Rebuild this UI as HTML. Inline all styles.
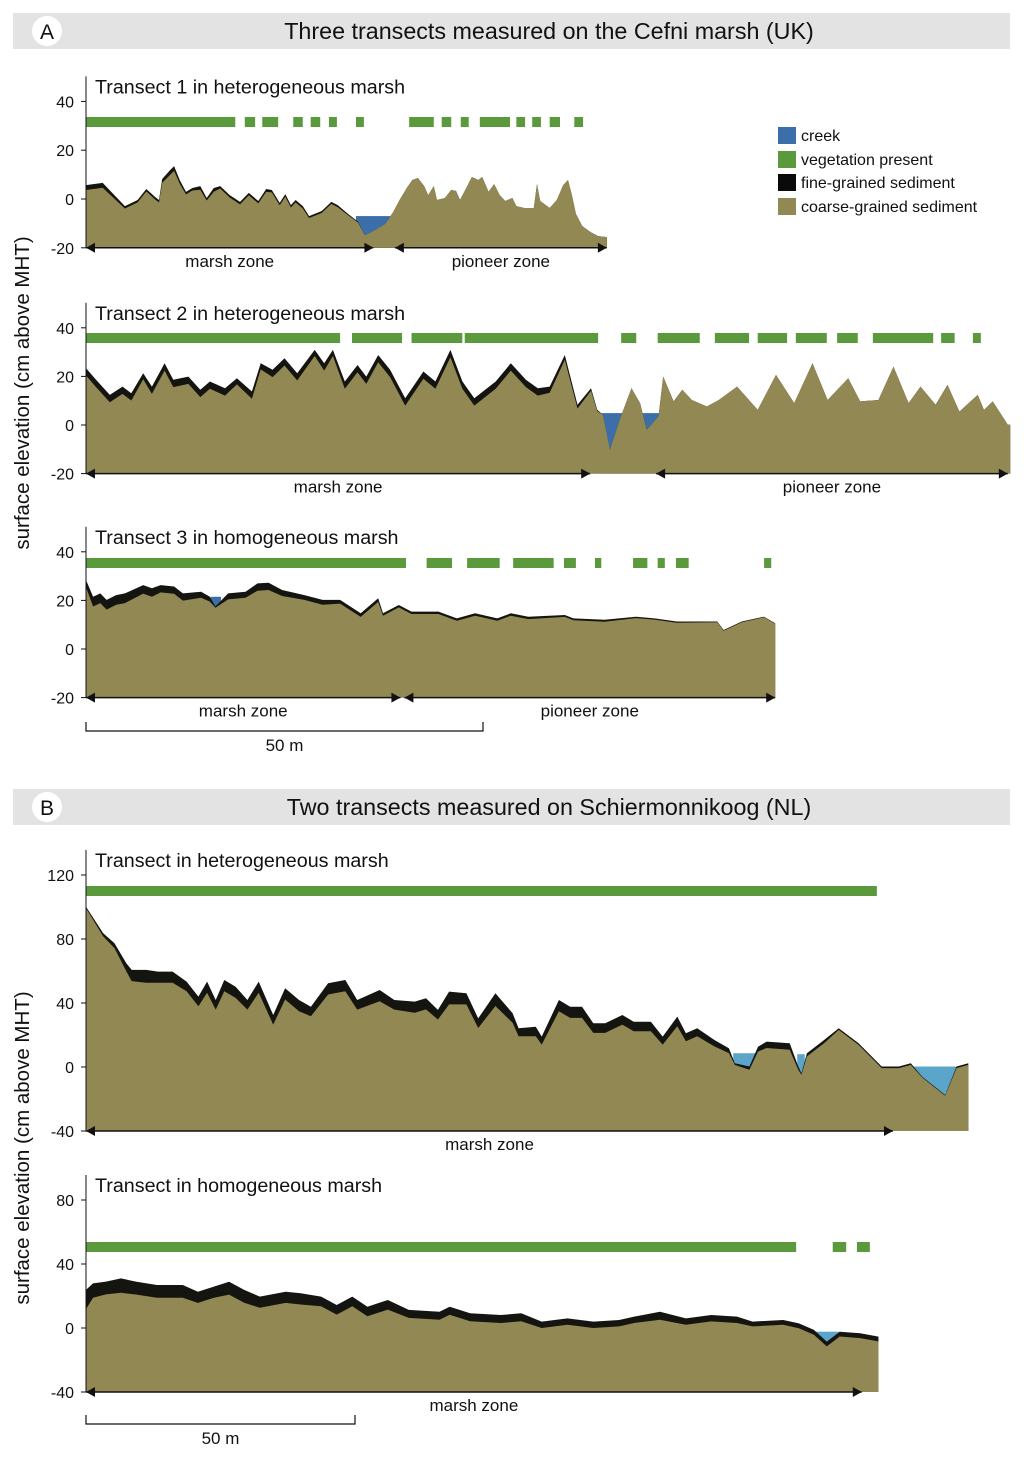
<!DOCTYPE html>
<html><head><meta charset="utf-8"><style>
body{margin:0;background:#fff;}
svg text{font-family:"Liberation Sans",sans-serif;fill:#111;}
</style></head><body>
<svg id="fig" width="1024" height="1452" viewBox="0 0 1024 1452" xmlns="http://www.w3.org/2000/svg">
<rect x="13" y="13" width="997" height="36" fill="#e3e3e3"/>
<circle cx="47" cy="31" r="15" fill="#fff"/>
<text x="47" y="39" font-size="21" text-anchor="middle">A</text>
<text x="549" y="39" font-size="23.3" text-anchor="middle">Three transects measured on the Cefni marsh (UK)</text>
<rect x="13" y="789" width="997" height="36" fill="#e3e3e3"/>
<circle cx="47" cy="807" r="15" fill="#fff"/>
<text x="47" y="815" font-size="21" text-anchor="middle">B</text>
<text x="549" y="815" font-size="23.3" text-anchor="middle">Two transects measured on Schiermonnikoog (NL)</text>
<text transform="translate(29,393) rotate(-90)" font-size="20.5" text-anchor="middle">surface elevation (cm above MHT)</text>
<text transform="translate(29,1148) rotate(-90)" font-size="20.5" text-anchor="middle">surface elevation (cm above MHT)</text>
<g>
<rect x="778" y="127" width="18" height="17" fill="#3c6faa"/>
<text x="801" y="141" font-size="16">creek</text>
<rect x="778" y="151" width="18" height="17" fill="#5a9a3c"/>
<text x="801" y="165" font-size="16">vegetation present</text>
<rect x="778" y="174" width="18" height="17" fill="#0a0a0a"/>
<text x="801" y="188" font-size="16">fine-grained sediment</text>
<rect x="778" y="198" width="18" height="17" fill="#928853"/>
<text x="801" y="212" font-size="16">coarse-grained sediment</text>
</g>
</svg>
<script>
// ---- Transect 1 (Cefni, heterogeneous) ----
const t1Dist=[0,2.1,3.3,4.9,6.5,7.6,8.7,9.2,9.6,10.6,11.1,11.8,12.6,13.4,14.4,15.2,16.1,16.9,18.1,19.4,20.5,21.7,22.7,23.4,24.4,25.1,25.8,26.4,27.3,28.1,29.7,30.9,31.7,33.0,34.3,35.1,36.0,37.7,38.7,39.5,40.4,41.1,41.8,42.6,43.1,43.8,44.2,45.2,46.0,46.6,47.1,47.9,48.6,49.4,49.9,50.7,51.4,52.1,52.8,53.7,54.2,55.2,56.4,56.8,57.2,58.4,59.3,60.1,60.7,61.2,61.7,62.5,63.5,64.5,65.6];
const t1Elev=[5.7,6.6,2.5,-2.9,-0.4,4.1,0.8,-0.4,8.2,11.9,13.5,7.8,2.9,4.5,5.3,0.4,4.5,5.3,1.6,-1.2,2.5,-0.8,4.1,3.7,-1.6,2.0,-2.5,-0.4,-2.9,-7.0,-4.9,-1.2,-2.5,-6.1,-9.4,-14.8,-13.5,-10.2,-5.3,-0.4,4.5,7.8,8.6,5.3,1.6,5.3,-0.4,0.4,3.7,3.3,-0.4,4.5,9.0,7.8,9.0,2.9,6.1,1.6,-0.8,0.4,-2.9,-3.7,-3.7,6.1,-0.8,-3.7,-0.4,5.7,7.8,1.6,-6.1,-11.1,-13.5,-15.2,-15.6];
const t1Fine=[2,2,1.5,1,1,1,1,1,1.5,2,2,1.5,1,1,1.5,1,1.5,1,1,1,1,1,1.2,1,1,1,1,1,1,0.8,0.8,0.8,0.8,0.5,0.3,0,0];
const t1VegStart=[0,20.0,22.2,26.1,28.3,30.6,34.0,40.7,44.8,47.2,49.6,54.2,56.2,58.4,61.5];
const t1VegEnd=[18.8,21.3,24.2,27.3,29.5,31.6,35.0,43.8,46.0,48.2,53.4,55.3,57.3,59.7,62.6];
const t1Creek=[[34.0,38.8,-7.0]];
// ---- Transect 2 ----
const t2Dist=[0,1.1,3.0,4.6,5.7,7.2,8.3,9.9,11.0,12.9,14.4,15.6,17.5,19.0,20.9,22.0,23.5,25.0,26.6,28.8,30.0,31.1,32.6,34.2,35.3,36.8,38.3,40.2,42.5,44.0,45.9,47.4,48.9,51.6,53.5,55.4,56.9,58.4,60.3,61.9,63.6,64.4,65.1,66.0,67.2,68.7,69.8,70.6,72.1,72.7,74.0,75.1,76.3,78.2,79.7,82.0,84.6,86.9,89.2,91.5,93.4,96.0,97.5,99.8,101.7,103.6,105.1,107.0,108.5,110.0,112.3,113.1,114.2,116.1,116.4];
const t2Elev=[23.4,19.2,12.4,15.8,13.1,21.3,15.8,25.4,18.6,19.9,14.5,17.9,15.1,19.2,13.8,25.4,22.7,27.5,21.3,30.9,25.4,30.9,17.9,24.7,19.9,28.8,22.7,11.0,22.0,17.9,30.9,17.9,11.0,17.9,25.4,18.6,15.1,15.8,28.8,8.3,15.1,6.2,4.2,-10.2,2.1,15.1,8.9,-2.0,3.5,19.9,9.7,14.5,10.3,7.6,10.3,15.8,6.2,20.6,9.0,25.4,10.3,19.2,9.7,10.3,24.0,9.0,15.8,8.3,16.5,5.5,12.4,6.2,9.7,0.1,0.1];
const t2Fine=[3,3,3,3,3,2.5,3,3,3,3,3,3,3,2.5,3,2.5,3,3,3,2.5,3,2.5,3,3,3,3,3,3,3,3,3,3,3,3,3,3,3,2.5,2,1.5,1,0.5,0,0];
const t2VegStart=[0,33.5,41.0,47.7,67.4,72.0,79.2,84.6,89.4,94.6,99.1,107.7,111.7];
const t2VegEnd=[32.0,39.8,47.4,64.5,69.3,77.3,83.5,88.3,93.3,97.2,106.7,109.4,112.7];
const t2Creek=[[64.9,72.2,4.9]];
// ---- Transect 3 ----
const t3Dist=[0,0.9,1.8,2.6,3.8,4.9,7.2,8.3,9.4,11.1,12.2,14.5,15.6,16.3,17.9,20.1,21.6,23.0,24.7,27.5,29.8,32.0,34.6,36.8,37.4,39.4,41.0,44.4,46.7,49.0,51.8,53.5,55.7,60.3,61.4,65.3,69.3,71.6,74.4,79.5,80.3,82.6,85.4,86.8];
const t3Elev=[28.4,21.5,22.9,20.2,22.2,22.9,26.3,25.0,26.3,25.7,22.9,23.6,21.5,17.5,22.9,23.6,27.0,27.3,24.3,22.2,20.2,20.2,14.7,20.9,14.7,18.1,15.4,15.4,12.6,14.7,12.6,14.7,13.3,14.0,12.6,12.0,13.3,12.6,11.3,11.3,7.8,11.3,13.3,10.6];
const t3Fine=[3,4,4,4,4,4,3.5,3.5,3,3,3,2.5,2,0.5,2.5,2.5,3,3,2.5,2,2,1.5,1.5,1.5,1,1,1,1,1,1,1,1,1,0.8,0.8,0.8,0.6,0.5,0.5,0.3,0.3,0.3,0.2,0.2];
const t3VegStart=[0,42.9,48.0,53.8,60.2,64.1,68.9,72.0,74.3,85.4];
const t3VegEnd=[40.3,46.1,52.1,58.9,61.7,64.9,70.7,72.9,75.9,86.3];
const t3Creek=[[15.7,17.0,21.5]];
// ---- Schiermonnikoog heterogeneous ----
const b1Dist=[0,3.2,5.3,7.5,8.5,11.2,13.4,16.1,18.7,20.9,22.5,24.1,25.7,27.8,30.0,32.1,34.8,37.0,39.6,41.8,45.0,48.2,50.4,54.6,57.3,61.1,63.2,65.4,67.5,70.7,72.9,76.1,79.3,80.4,83.6,84.7,87.9,90.0,92.2,94.3,96.5,99.7,101.8,105.0,107.2,109.9,111.5,113.6,116.8,119.5,120.6,123.3,124.9,126.5,130.8,132.4,133.0,134.0,137.2,139.9,143.6,147.9,151.1,153.3,155.4,159.7,161.8,164.0];
const b1Elev=[100.2,83.6,77.3,64.8,60.7,60.7,59.6,59.6,53.4,44.0,53.4,41.9,54.4,50.2,41.9,53.4,32.5,49.2,41.9,37.7,52.3,54.4,41.9,48.1,41.9,40.9,43.0,35.7,47.1,46.1,30.4,46.1,33.6,24.2,25.2,19.0,41.9,37.7,37.7,27.3,27.3,32.5,28.3,28.3,19.0,31.5,21.1,24.2,16.9,11.7,2.3,0.3,12.7,15.9,14.8,0.3,-3.9,8.6,16.9,24.2,14.8,0.3,0.3,2.3,-6.0,-17.5,0.3,2.3];
const b1Fine=[1,2,3,5,7,8,7,7,6,6,7,6,7,7,6,7,6,7,7,6,7,7,6,7,6,7,7,6,8,7,6,8,6,5,6,5,7,7,7,6,6,6,6,6,5,6,5,5,4,3,1,2,3,4,4,2,1,2,2,1,1,1,1,1,0.5,0.5,1,1];
const b1VegStart=[0];
const b1VegEnd=[147.0];
const b1Creek=[[120.3,125.0,8.6],[132.2,133.6,8.0],[153.0,161.8,0.3]];
// ---- Schiermonnikoog homogeneous ----
const b2Dist=[0,1.3,3.7,6.5,9.4,13.2,18.0,20.8,23.7,26.6,29.4,32.3,37.1,39.9,43.7,46.6,49.5,52.3,56.1,60.0,65.7,67.6,71.4,77.1,80.9,84.7,89.5,94.3,99.1,101.9,106.7,111.5,116.2,121.0,123.9,129.6,132.5,135.3,137.7,140.1,143.9,147.3];
const b2Elev=[23.8,27.9,29.0,31.0,28.9,26.9,26.9,22.7,25.8,28.9,23.8,19.6,22.7,21.7,19.6,14.4,19.6,13.3,17.5,11.3,10.2,13.3,9.2,8.1,9.2,4.0,6.0,4.0,5.0,7.1,10.2,6.0,8.1,7.1,4.0,5.0,2.9,-1.2,-8.5,-2.3,-3.3,-5.4];
const b2Fine=[12,9,8,9,8,8,8,7,7,8,8,7,7,7,6,6,6,6,6,5,5,5,5,5,5,4,4,4,4,4,5,4,4,4,3,3,3,3,3,3,3,3];
const b2VegStart=[0,138.8,143.3];
const b2VegEnd=[132.0,141.3,145.7];
const b2Creek=[[134.8,140.0,-2.3]];
// tick labels
const t1Ticks=[-20,0,20,40], t2Ticks=[-20,0,20,40], t3Ticks=[-20,0,20,40];
const b1Ticks=[-40,0,40,80,120], b2Ticks=[-40,0,40,80];

const NS='http://www.w3.org/2000/svg';
const svg=document.getElementById('fig');
function el(tag,attrs,parent){const e=document.createElementNS(NS,tag);for(const k in attrs)e.setAttribute(k,attrs[k]);(parent||svg).appendChild(e);return e;}

function drawTransect(id,lay,dist,elev,fine,vs,ve,creeks,ticks,creekColor,title,zones){
  const g=el('g',{});
  
  
  const X=m=>lay.x0+m*lay.pxm;
  const Y=c=>lay.y0-c*lay.pxc;
  const base=Y(ticks[0]);
  const endX=X(dist[dist.length-1]);
  creeks.forEach(c=>{
    const r=el('rect',{x:X(c[0]),y:Y(c[2]),width:X(c[1])-X(c[0]),height:base-Y(c[2]),fill:creekColor},g);
    
    
  });
  let top='M'+X(dist[0])+','+base;
  dist.forEach((d,i)=>{top+=' L'+X(d).toFixed(1)+','+Y(elev[i]).toFixed(1);});
  top+=' L'+endX+','+base+' Z';
  const fp=el('path',{d:top,fill:'#141410'},g);
  
  
  let cp='M'+X(dist[0])+','+base;
  dist.forEach((d,i)=>{const f=i<fine.length?fine[i]:fine[fine.length-1];cp+=' L'+X(d).toFixed(1)+','+Y(elev[i]-f).toFixed(1);});
  cp+=' L'+endX+','+base+' Z';
  const cpath=el('path',{d:cp,fill:'#928853'},g);
  
  
  vs.forEach((s,i)=>{
    const r=el('rect',{x:X(s),y:lay.vegY-5,width:X(ve[i])-X(s),height:10,fill:'#5a9a3c'},g);
    
    
  });
  const ax=el('line',{x1:lay.x0,x2:lay.x0,y1:Y(ticks[ticks.length-1])-lay.axTop,y2:base,stroke:'#111','stroke-width':1},g);
  
  
  ticks.forEach(t=>{
    const tl=el('line',{x1:lay.x0-5,x2:lay.x0,y1:Y(t),y2:Y(t),stroke:'#111'},g);
    
    
    const tx=el('text',{x:lay.x0-12,y:Y(t)+6,'font-size':16,'text-anchor':'end'},g);
    tx.textContent=t;
    
    
  });
  const tt=el('text',{x:lay.x0+9,y:Y(ticks[ticks.length-1])-lay.axTop+17,'font-size':19.7},g);
  tt.textContent=title;
  
  
  zones.forEach(z=>{
    const a=X(z[0]),b=X(z[1]);
    const ln=el('line',{x1:a,x2:b,y1:base,y2:base,stroke:'#111','stroke-width':1.5},g);
    
    
    const h1=el('path',{d:`M${a},${base} l9,-5 l0,10 Z M${b},${base} l-9,-5 l0,10 Z`,fill:'#111'},g);
    
    
    const lt=el('text',{x:(a+b)/2,y:base+19,'font-size':17,'text-anchor':'middle'},g);
    lt.textContent=z[2];
    
    
  });
}
drawTransect('transect-1',{x0:86,pxm:7.94,y0:199,pxc:2.44,vegY:122,axTop:25},t1Dist,t1Elev,t1Fine,t1VegStart,t1VegEnd,t1Creek,t1Ticks,'#3c6faa','Transect 1 in heterogeneous marsh',[[0,36.2,'marsh zone'],[38.9,65.6,'pioneer zone']]);
drawTransect('transect-2',{x0:86,pxm:7.94,y0:425,pxc:2.43,vegY:338,axTop:25},t2Dist,t2Elev,t2Fine,t2VegStart,t2VegEnd,t2Creek,t2Ticks,'#3c6faa','Transect 2 in heterogeneous marsh',[[0,63.5,'marsh zone'],[71.8,116.1,'pioneer zone']]);
drawTransect('transect-3',{x0:86,pxm:7.94,y0:649,pxc:2.43,vegY:563,axTop:25},t3Dist,t3Elev,t3Fine,t3VegStart,t3VegEnd,t3Creek,t3Ticks,'#3c6faa','Transect 3 in homogeneous marsh',[[0,39.6,'marsh zone'],[40.1,86.8,'pioneer zone']]);
drawTransect('schier-heterogeneous',{x0:86,pxm:5.38,y0:1067,pxc:1.6,vegY:891,axTop:25},b1Dist,b1Elev,b1Fine,b1VegStart,b1VegEnd,b1Creek,b1Ticks,'#5aa5c9','Transect in heterogeneous marsh',[[0,150,'marsh zone']]);
drawTransect('schier-homogeneous',{x0:86,pxm:5.38,y0:1328,pxc:1.6,vegY:1247,axTop:25},b2Dist,b2Elev,b2Fine,b2VegStart,b2VegEnd,b2Creek,b2Ticks,'#5aa5c9','Transect in homogeneous marsh',[[0,144.2,'marsh zone']]);
function scaleBar(x1,x2,y,label,name){
  const p=el('path',{d:`M${x1},${y-9} L${x1},${y} L${x2},${y} L${x2},${y-9}`,fill:'none',stroke:'#111','stroke-width':1.2});
  
  
  const t=el('text',{x:(x1+x2)/2,y:y+20,'font-size':17,'text-anchor':'middle'});
  t.textContent=label;
  
  
}
scaleBar(86,483,731,'50 m','scale-bar-a');
scaleBar(86,355,1424,'50 m','scale-bar-b');
</script>
</body></html>
